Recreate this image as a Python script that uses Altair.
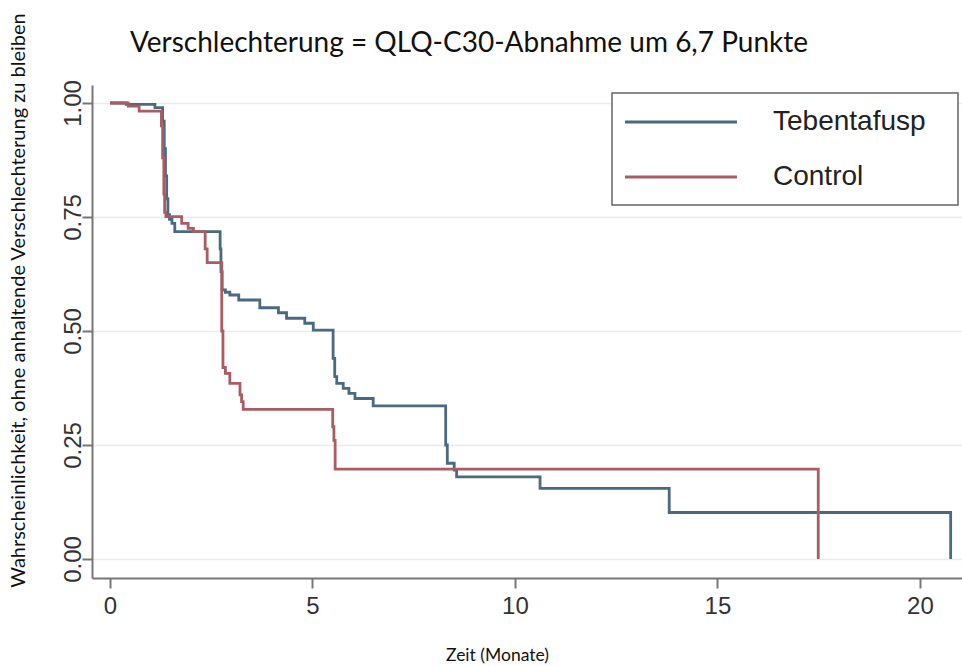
import altair as alt
import pandas as pd

# Kaplan-Meier estimates: time to sustained QLQ-C30 deterioration (months)
teb_months = [0, 0.40, 1.11, 1.30, 1.34, 1.37, 1.40, 1.43, 1.47, 1.53, 1.60,
              2.72, 2.74, 2.77, 2.85, 2.96, 3.18, 3.70, 4.16, 4.36, 4.81, 5.02,
              5.51, 5.55, 5.60, 5.76, 5.90, 6.05, 6.50, 8.29, 8.33, 8.50, 8.56,
              10.62, 13.81, 20.76]
teb_surv = [1.0, 0.997, 0.99, 0.96, 0.90, 0.84, 0.79, 0.755, 0.745, 0.736, 0.718,
            0.68, 0.63, 0.59, 0.585, 0.579, 0.568, 0.551, 0.540, 0.528, 0.517, 0.502,
            0.44, 0.40, 0.385, 0.374, 0.363, 0.352, 0.336, 0.25, 0.21, 0.195, 0.180,
            0.155, 0.102, 0.0]

ctl_months = [0, 0.45, 0.72, 1.27, 1.30, 1.33, 1.35, 1.38, 1.77, 1.93, 2.06,
              2.35, 2.40, 2.76, 2.79, 2.85, 2.96, 3.21, 3.25, 3.29, 5.50, 5.53,
              5.56, 17.49]
ctl_surv = [1.0, 0.993, 0.982, 0.95, 0.88, 0.80, 0.76, 0.751, 0.736, 0.725, 0.718,
            0.68, 0.650, 0.50, 0.42, 0.407, 0.385, 0.36, 0.345, 0.328, 0.29, 0.26,
            0.197, 0.0]

groups = ["Tebentafusp", "Control"]
colors = ["#4b6a80", "#aa5c64"]
x_ticks = [0, 5, 10, 15, 20]
y_ticks = [0.0, 0.25, 0.5, 0.75, 1.0]
title_text = "Verschlechterung = QLQ-C30-Abnahme um 6,7 Punkte"

df = pd.concat([
    pd.DataFrame({"month": teb_months, "surv": teb_surv, "group": groups[0]}),
    pd.DataFrame({"month": ctl_months, "surv": ctl_surv, "group": groups[1]}),
])

curves = alt.Chart(df).mark_line(interpolate="step-after", strokeWidth=2.8).encode(
    x=alt.X(
        "month:Q",
        scale=alt.Scale(domain=[-0.444, 21.04], nice=False, zero=False),
        axis=alt.Axis(
            values=x_ticks, format="d", grid=False,
            title="Zeit (Monate)", titleFont="Lato", titleFontSize=17.5,
            titleFontWeight="normal", titleColor="#111",
            titleX=405, titleY=77, titleAlign="center", titleBaseline="middle",
            labelFont="Liberation Sans", labelFontSize=24, labelColor="#333",
            labelPadding=6, labelFlush=False, labelOverlap=False,
            tickSize=10, tickWidth=2, tickColor="#777",
            domainColor="#777", domainWidth=2,
        ),
    ),
    y=alt.Y(
        "surv:Q",
        scale=alt.Scale(domain=[-0.0417, 1.0395], nice=False, zero=False),
        axis=alt.Axis(
            values=y_ticks, format=".2f", grid=True,
            gridColor="#ebebeb", gridWidth=1.5,
            title="Wahrscheinlichkeit, ohne anhaltende Verschlechterung zu bleiben",
            titleFont="Lato", titleFontSize=20, titleFontWeight="normal",
            titleColor="#111", titleAngle=270, titleX=-74, titleY=215,
            titleAlign="center", titleBaseline="middle",
            labelFont="Liberation Sans", labelFontSize=24, labelColor="#333",
            labelAngle=270, labelAlign="center", labelBaseline="alphabetic",
            labelPadding=2, labelFlush=False, labelOverlap=False,
            tickSize=10, tickWidth=2, tickColor="#777",
            domainColor="#777", domainWidth=2,
        ),
    ),
    color=alt.Color("group:N", scale=alt.Scale(domain=groups, range=colors), legend=None),
    detail="group:N",
)

layers = [curves]

# Heading above the plot
layers.append(
    alt.Chart(pd.DataFrame({"t": [title_text]})).mark_text(
        align="center", baseline="alphabetic", font="Lato", fontSize=28,
        color="#111"
    ).encode(x=alt.value(377), y=alt.value(-33), text="t:N")
)

# Legend box drawn in the upper right corner of the plot
layers.append(
    alt.Chart(pd.DataFrame({"k": [0]})).mark_rect(
        fill="white", stroke="#666", strokeWidth=1.5
    ).encode(x=alt.value(520), x2=alt.value(866), y=alt.value(8), y2=alt.value(120))
)
for i, (g, c) in enumerate(zip(groups, colors)):
    row_y = 37 + 55 * i
    one = alt.Chart(pd.DataFrame({"group": [g]}))
    layers.append(
        one.mark_rule(color=c, strokeWidth=3).encode(
            x=alt.value(533), x2=alt.value(645), y=alt.value(row_y)
        )
    )
    layers.append(
        one.mark_text(
            align="left", baseline="middle", font="Liberation Sans",
            fontSize=28, color="#222"
        ).encode(x=alt.value(681), y=alt.value(row_y), text="group:N")
    )

chart = alt.layer(*layers).properties(
    width=870,
    height=493,
    autosize=alt.AutoSizeParams(type="none"),
    padding={"left": 92, "top": 85, "right": 0, "bottom": 88},
).configure_view(stroke=None)

chart.save("out.html", embed_options={"renderer": "svg", "actions": False})
